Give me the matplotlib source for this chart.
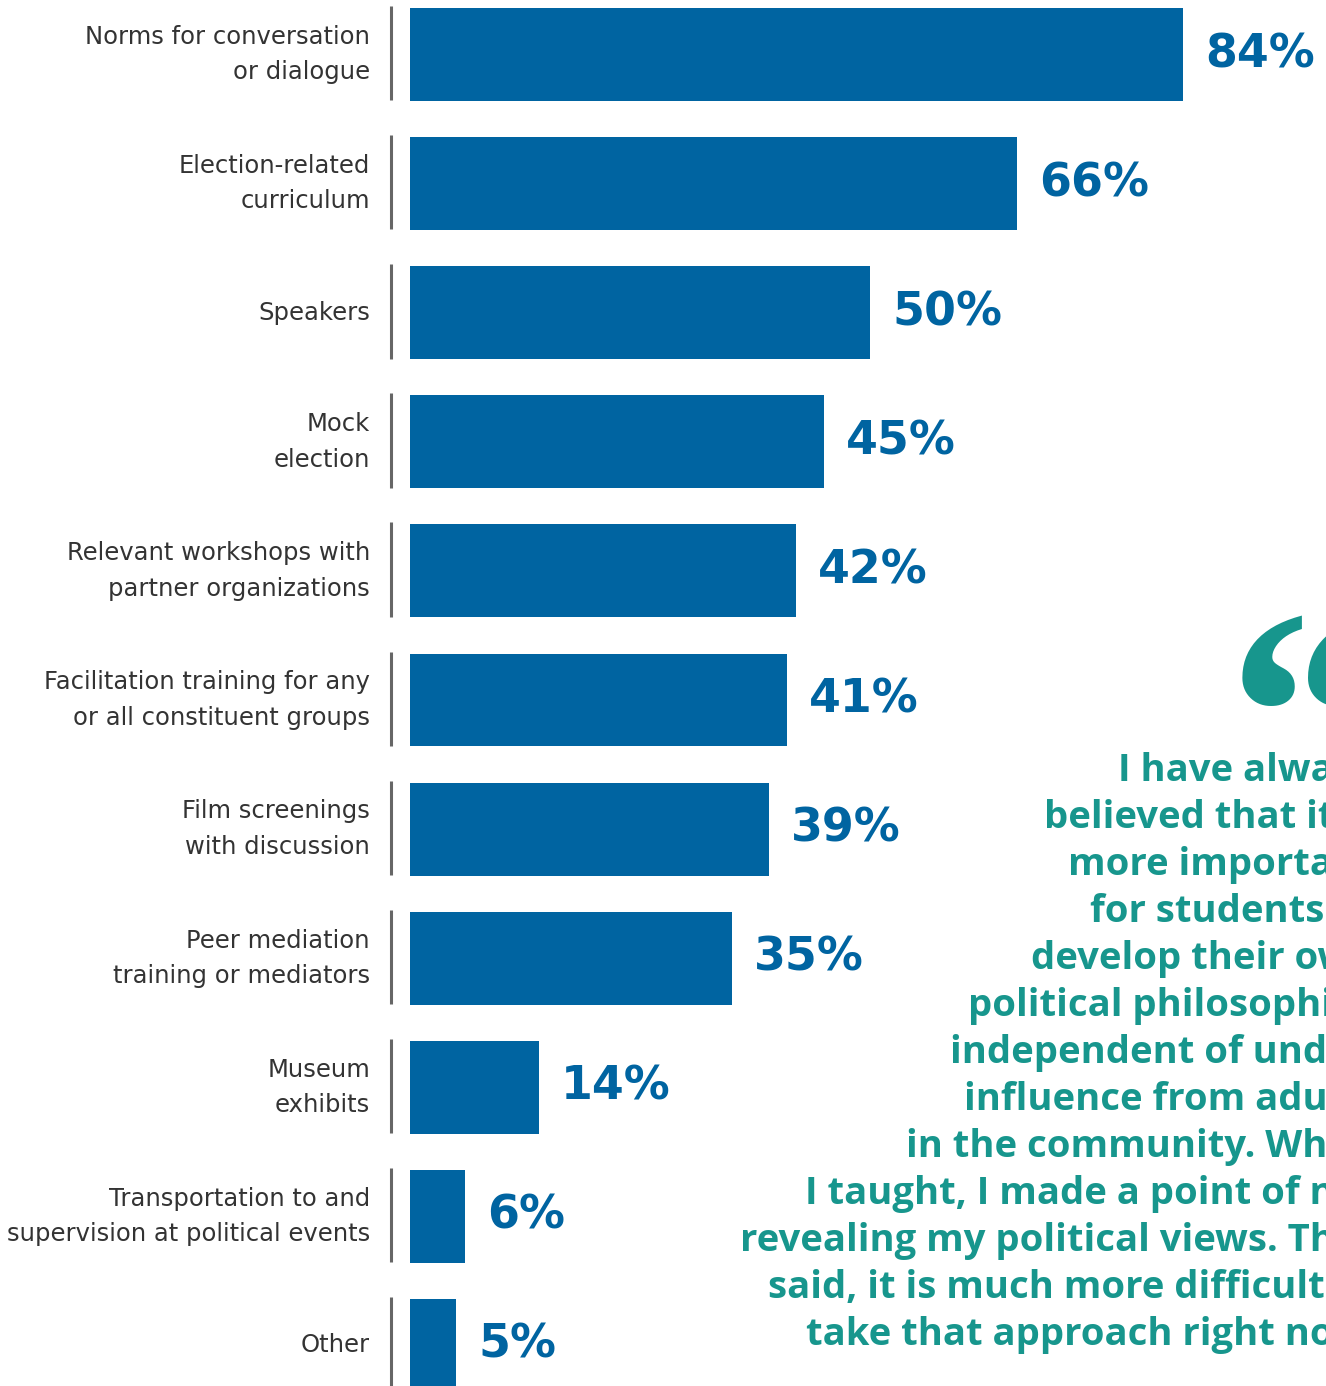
import matplotlib.pyplot as plt

categories = [
    "Norms for conversation\nor dialogue",
    "Election-related\ncurriculum",
    "Speakers",
    "Mock\nelection",
    "Relevant workshops with\npartner organizations",
    "Facilitation training for any\nor all constituent groups",
    "Film screenings\nwith discussion",
    "Peer mediation\ntraining or mediators",
    "Museum\nexhibits",
    "Transportation to and\nsupervision at political events",
    "Other",
]
values = [84, 66, 50, 45, 42, 41, 39, 35, 14, 6, 5]

quote = ("I have always\nbelieved that it is\nmore important\nfor students to\n"
         "develop their own\npolitical philosophies\nindependent of undue\n"
         "influence from adults\nin the community. When\nI taught, I made a point of not\n"
         "revealing my political views. That\nsaid, it is much more difficult to\n"
         "take that approach right now.")

blue = "#0064A1"
teal = "#17968D"

W, H = 1326, 1386
fig = plt.figure(figsize=(W / 100, H / 100), dpi=100)
ax = fig.add_axes([0, 0, 1, 1])

px = 9.2      # pixels per percent
step = 129.1  # pixels between bar centres
ax.set_xlim(-410 / px, (W - 410) / px)
ax.set_ylim((H - 54.5) / step, -54.5 / step)
ax.axis("off")

pos = list(range(len(values)))
ax.barh(pos, values, height=0.72, color=blue, zorder=2)

for i, (lab, v) in enumerate(zip(categories, values)):
    ax.text(-40 / px, i, lab, ha="right", va="center", fontsize=17.5,
            family="DejaVu Sans", color="#333333", linespacing=1.6)
    ax.plot([-19 / px, -19 / px], [i - 0.375, i + 0.355], color="#666666",
            lw=2.2, solid_capstyle="butt")
    ax.text(v + 22 / px, i, f"{v}%", ha="left", va="center", fontsize=33,
            family="DejaVu Sans", fontweight="bold", color=blue)

fig.text(1228 / W, 1 - 607 / H, "\u201c", ha="left", va="top", fontsize=215,
         family="Liberation Serif", fontweight="bold", color=teal)
fig.text(1375 / W, 1 - 752 / H, quote, ha="right", va="top", ma="right",
         fontsize=27.5, family="Open Sans", fontweight="bold", color=teal,
         linespacing=1.31)

fig.savefig("out.png", dpi=100)
